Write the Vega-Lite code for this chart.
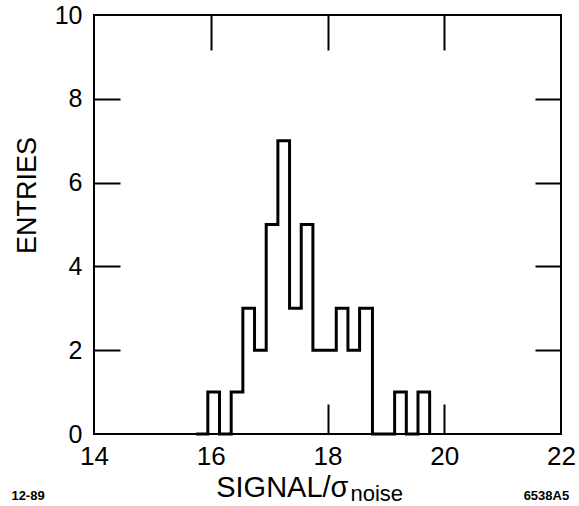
{
  "$schema": "https://vega.github.io/schema/vega-lite/v6.json",
  "autosize": "none",
  "padding": {"left": 94, "top": 15, "right": 18, "bottom": 72},
  "width": 467,
  "height": 419,
  "background": "white",
  "config": {
    "view": {"stroke": "black", "strokeWidth": 2},
    "axis": {
      "domain": false,
      "grid": false,
      "labelFont": "Liberation Sans",
      "titleFont": "Liberation Sans",
      "labelColor": "black",
      "titleColor": "black",
      "tickColor": "black",
      "tickWidth": 2,
      "titleFontWeight": "normal"
    }
  },
  "data": {
    "values": [
      {"x": 15.75, "n": 0},
      {"x": 15.95, "n": 1},
      {"x": 16.15, "n": 0},
      {"x": 16.35, "n": 1},
      {"x": 16.55, "n": 3},
      {"x": 16.75, "n": 2},
      {"x": 16.95, "n": 5},
      {"x": 17.15, "n": 7},
      {"x": 17.35, "n": 3},
      {"x": 17.55, "n": 5},
      {"x": 17.75, "n": 2},
      {"x": 17.95, "n": 2},
      {"x": 18.15, "n": 3},
      {"x": 18.35, "n": 2},
      {"x": 18.55, "n": 3},
      {"x": 18.77, "n": 0},
      {"x": 18.95, "n": 0},
      {"x": 19.15, "n": 1},
      {"x": 19.35, "n": 0},
      {"x": 19.55, "n": 1},
      {"x": 19.75, "n": 0}
    ]
  },
  "layer": [
    {
      "mark": {"type": "line", "interpolate": "step-after", "color": "black", "strokeWidth": 3, "strokeJoin": "miter"},
      "encoding": {
        "x": {
          "field": "x", "type": "quantitative",
          "scale": {"domain": [14, 22], "nice": false, "zero": false},
          "axis": {
            "orient": "bottom",
            "values": [14, 16, 18, 20, 22],
            "format": "d",
            "tickSize": -30,
            "tickColor": {"condition": {"test": "datum.value == 14 || datum.value == 16 || datum.value == 22", "value": "transparent"}, "value": "black"},
            "labelFontSize": 26,
            "labelPadding": 39,
            "labelFlush": false,
            "title": "SIGNAL/σ",
            "titleFontSize": 29,
            "titleAngle": 0,
            "titleX": 254,
            "titleY": 62,
            "titleAlign": "right",
            "titleBaseline": "alphabetic"
          }
        },
        "y": {
          "field": "n", "type": "quantitative",
          "scale": {"domain": [0, 10], "nice": false},
          "axis": {
            "orient": "left",
            "values": [0, 2, 4, 6, 8, 10],
            "format": "d",
            "tickSize": -26,
            "tickColor": {"condition": {"test": "datum.value == 0 || datum.value == 10", "value": "transparent"}, "value": "black"},
            "labelFontSize": 25,
            "labelPadding": 38,
            "labelFlush": false,
            "title": "ENTRIES",
            "titleFontSize": 27,
            "titleAngle": -90,
            "titleX": -59,
            "titleY": 180,
            "titleAlign": "center",
            "titleBaseline": "alphabetic"
          }
        }
      }
    },
    {
      "mark": {"type": "point", "opacity": 0},
      "encoding": {
        "x": {
          "field": "x", "type": "quantitative",
          "axis": {
            "orient": "top",
            "values": [16, 18, 20],
            "tickSize": -35,
            "labels": false,
            "title": "noise",
            "titleFontSize": 22,
            "titleAngle": 0,
            "titleX": 256,
            "titleY": 485,
            "titleAlign": "left",
            "titleBaseline": "alphabetic"
          }
        },
        "y": {
          "field": "n", "type": "quantitative",
          "axis": {
            "orient": "right",
            "values": [2, 4, 6, 8],
            "tickSize": -26,
            "labels": false,
            "title": null
          }
        }
      }
    },
    {
      "data": {"values": [{}]},
      "mark": {"type": "text", "text": "12-89", "font": "Liberation Sans", "fontWeight": "bold", "fontSize": 13, "color": "black", "align": "center", "baseline": "middle"},
      "encoding": {
        "x": {"datum": 12.87, "type": "quantitative", "axis": null},
        "y": {"datum": -1.48, "type": "quantitative", "axis": null}
      }
    },
    {
      "data": {"values": [{}]},
      "mark": {"type": "text", "text": "6538A5", "font": "Liberation Sans", "fontWeight": "bold", "fontSize": 13, "color": "black", "align": "center", "baseline": "middle"},
      "encoding": {
        "x": {"datum": 21.75, "type": "quantitative", "axis": null},
        "y": {"datum": -1.48, "type": "quantitative", "axis": null}
      }
    }
  ],
  "resolve": {"axis": {"x": "independent", "y": "independent"}}
}
